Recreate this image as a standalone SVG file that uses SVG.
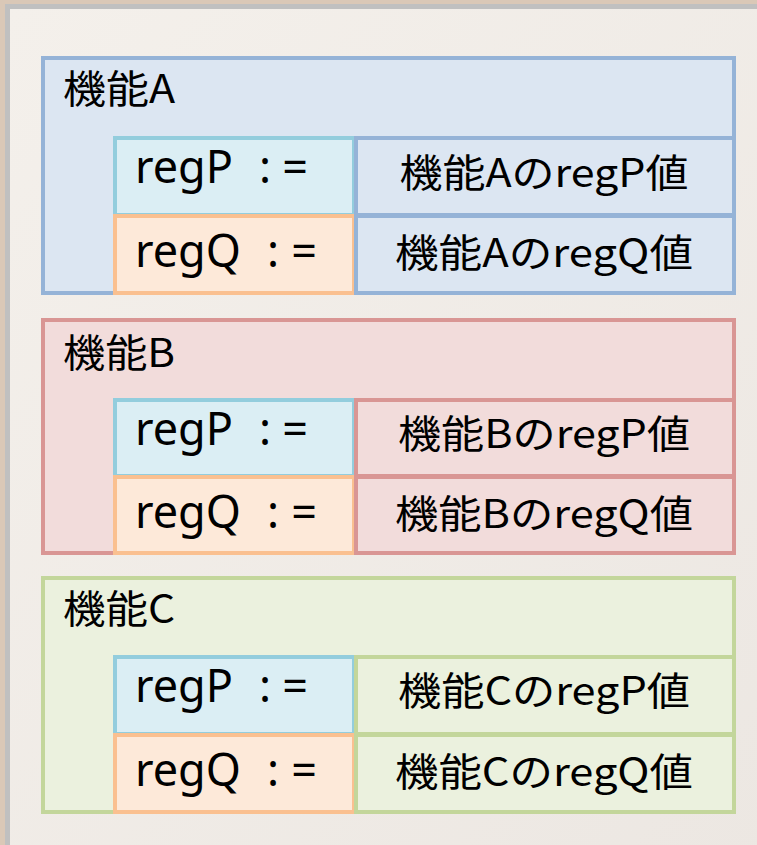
<svg xmlns="http://www.w3.org/2000/svg" width="757" height="845" viewBox="0 0 757 845">
  <defs>
    <linearGradient id="bg" x1="0" y1="0" x2="1" y2="1">
      <stop offset="0" stop-color="#f4f0eb"/>
      <stop offset="1" stop-color="#ece7e2"/>
    </linearGradient>
    <style>
      .lbl { font-family: "Noto Sans CJK JP", "Noto Sans", sans-serif; font-size: 39px; fill: #000; }
      .reg { font-family: "Noto Sans", "Noto Sans CJK JP", sans-serif; font-size: 45px; fill: #000; }
      .val { font-family: "Noto Sans CJK JP", "Noto Sans", sans-serif; font-size: 39px; fill: #000; text-anchor: middle; }
      .bx { stroke-width: 4; }
      .p { fill: #dbeef4; stroke: #93cddd; stroke-width: 4; }
      .q { fill: #fde9d9; stroke: #fac090; stroke-width: 4; }
      .a { fill: #dce6f2; stroke: #95b3d7; }
      .b { fill: #f2dcdb; stroke: #d99694; }
      .c { fill: #ebf1de; stroke: #c3d69b; }
    </style>
  </defs>
  <rect x="0" y="0" width="757" height="845" fill="#dac8b7"/>
  <rect x="7.5" y="6.5" width="770" height="860" fill="url(#bg)" stroke="#c0c0c0" stroke-width="5"/>

  <g id="funcA" transform="translate(0,58)">
    <rect class="bx a" x="43" y="0" width="691" height="235"/>
    <text class="lbl" x="63" y="45" textLength="112" lengthAdjust="spacingAndGlyphs">機能A</text>
    <rect class="p" x="115" y="80" width="239" height="77"/>
    <rect class="q" x="115" y="158" width="239" height="77"/>
    <text class="reg" x="135" y="125">regP <tspan x="259" textLength="49">:=</tspan></text>
    <text class="reg" x="135" y="209">regQ <tspan x="267" textLength="50">:=</tspan></text>
    <rect class="bx a" x="356" y="80" width="378" height="77"/>
    <rect class="bx a" x="356" y="158" width="378" height="77"/>
    <text class="val" x="544" y="129" textLength="289" lengthAdjust="spacingAndGlyphs">機能AのregP値</text>
    <text class="val" x="544" y="209" textLength="298" lengthAdjust="spacingAndGlyphs">機能AのregQ値</text>
  </g>

  <g id="funcB" transform="translate(0,320)">
    <rect class="bx b" x="43" y="0" width="691" height="233"/>
    <text class="lbl" x="63" y="47" textLength="112" lengthAdjust="spacingAndGlyphs">機能B</text>
    <rect class="p" x="115" y="80" width="239" height="76"/>
    <rect class="q" x="115" y="157" width="239" height="76"/>
    <text class="reg" x="135" y="125">regP <tspan x="259" textLength="49">:=</tspan></text>
    <text class="reg" x="135" y="208">regQ <tspan x="267" textLength="50">:=</tspan></text>
    <rect class="bx b" x="356" y="80" width="378" height="76"/>
    <rect class="bx b" x="356" y="157" width="378" height="76"/>
    <text class="val" x="544" y="128" textLength="292" lengthAdjust="spacingAndGlyphs">機能BのregP値</text>
    <text class="val" x="544" y="208" textLength="298" lengthAdjust="spacingAndGlyphs">機能BのregQ値</text>
  </g>

  <g id="funcC" transform="translate(0,578)">
    <rect class="bx c" x="43" y="0" width="691" height="234"/>
    <text class="lbl" x="63" y="45" textLength="112" lengthAdjust="spacingAndGlyphs">機能C</text>
    <rect class="p" x="115" y="79" width="239" height="77"/>
    <rect class="q" x="115" y="157" width="239" height="77"/>
    <text class="reg" x="135" y="124">regP <tspan x="259" textLength="49">:=</tspan></text>
    <text class="reg" x="135" y="208">regQ <tspan x="267" textLength="50">:=</tspan></text>
    <rect class="bx c" x="356" y="79" width="378" height="77"/>
    <rect class="bx c" x="356" y="157" width="378" height="77"/>
    <text class="val" x="544" y="127" textLength="292" lengthAdjust="spacingAndGlyphs">機能CのregP値</text>
    <text class="val" x="544" y="208" textLength="298" lengthAdjust="spacingAndGlyphs">機能CのregQ値</text>
  </g>

  <g id="connectors"/>
</svg>
